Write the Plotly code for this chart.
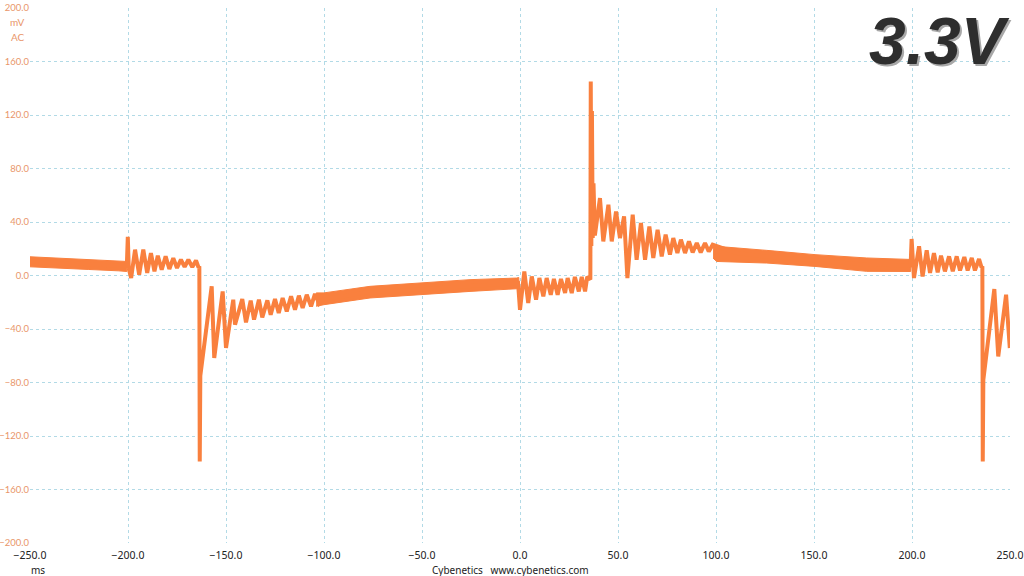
import plotly.graph_objects as go

# ---------------- data ----------------
trace_ms = [
    -250, -245, -240, -235, -230, -228, -225, -220, -215, -210, -205, -200.6,
    -200.1, -199.6, -198.4, -196.4, -194.3, -192.2, -190.2, -188.3, -186.5, -184.8,
    -182.8, -180.8, -178.9, -176.9, -175.0, -173.0, -171.1, -169.2, -167.2, -165.3,
    -164.0, -163.6,
    -163.4, -163.1,
    -157.3, -156.0, -151.7, -150.0, -146.3, -145.4, -141.7, -139.8, -137.4, -135.7,
    -133.2, -131.5, -128.9, -127.2, -125.0, -123.1, -121.1, -119.0, -116.8, -114.8,
    -112.8, -110.9, -108.8, -106.6, -104.6, -102.5,
    -100, -90, -80, -70, -60, -50, -40, -30, -20, -10, -1,
    0.0, 2.2, 4.2, 6.0, 8.2, 9.9, 11.9, 13.6, 15.7, 17.3, 19.2, 20.9, 23.0, 24.3,
    26.4, 28.0, 30.0, 31.5, 33.2, 34.3, 35.9,
    36.1, 36.4, 36.7, 37.1, 37.5, 38.2,
    40.8, 42.5, 45.1, 46.8, 49.0, 51.0, 53.1, 54.8, 57.5, 59.5, 61.7, 63.8, 66.0,
    68.0, 70.2, 72.3, 74.3, 76.5, 78.2, 80.3, 82.1, 84.2, 86.2, 88.1, 90.2, 92.2,
    94.4, 96.3, 98.3,
    110, 126, 140, 150, 165, 177, 190, 199.3,
    199.8, 201.0, 203.6, 205.4, 207.5, 209.2, 211.2, 213.1, 214.8, 216.8, 218.9,
    220.8, 222.8, 224.5, 226.7, 228.4, 230.5, 232.1, 234.2, 235.5, 235.9,
    236.1, 236.4, 242.0, 244.0, 248.0, 249.9,
]
trace_mv = [
    10.5, 10, 10, 9.5, 9, 8, 9, 8.5, 8, 8, 7.5, 7,
    29, 5, -1.9, 19.3, 0.6, 19.3, 1.9, 16.8, 3.1, 14.8,
    4.3, 14.3, 4.9, 13, 5.6, 11.8, 6.4, 11.8, 6.4, 11.3,
    6, 7,
    -139, -75,
    -8.1, -61.7, -11.9, -54.2, -18.1, -36.8, -17.6, -35.1, -18.8, -33,
    -18.1, -31.3, -18.6, -29.3, -17.6, -28, -16.8, -26.8, -15.6, -25.6,
    -15.1, -24.3, -14.4, -23.1, -13.8, -21,
    -17, -15.5, -13, -12, -11, -10, -9, -8, -7, -6.5, -5.5,
    -25.6, 3, -20.6, -0.7, -18.1, -1.9, -15.6, -1.9, -14.4, -2.6, -14.4, -2.6, -13.1, -1.9,
    -13.1, -1.1, -11.9, -1.1, -11.9, -1, -3,
    145, 22, 123, 28, 69, 30,
    57.9, 25.5, 52.9, 25.5, 47.9, 28, 44.2, -1.9, 45.5, 11.8, 39.2, 11.8, 36.7,
    13.1, 34.2, 14.3, 30.5, 15.6, 28, 16.8, 26.8, 16.8, 25.5, 17.3, 24.3, 17.3,
    24.3, 18, 23,
    17, 14, 12.5, 11, 9.5, 8, 7.8, 7.5,
    27.3, -1.9, 21.8, -0.7, 18.8, 1.9, 16.8, 2.3, 14.8, 3.1, 14.3,
    3.1, 14.3, 3.8, 13.8, 3.8, 13.1, 3.8, 12.3, 6, 7,
    -139, -78, -10.1, -60.5, -14.4, -54.2,
]

# noise band envelopes of the flat stretches
band_a_ms = [-250, -235, -220, -205, -200.6]
band_a_hi = [14, 13, 12, 11, 10.5]
band_a_lo = [6.5, 5.5, 4.5, 3.5, 3]

band_b_ms = [-104, -100, -76.5, -50.2, -25.5, -1.7, -0.6]
band_b_hi = [-13, -13, -8.1, -5.6, -3.1, -1.9, -1.5]
band_b_lo = [-23, -21.8, -16.8, -14.4, -11.9, -9.9, -9.5]

band_c_ms = [98.5, 100.3, 125.9, 150.5, 176.9, 193.9, 199.3]
band_c_hi = [23, 21.8, 18.8, 15.6, 13.1, 12.3, 12]
band_c_lo = [13, 10.5, 9.3, 6.8, 3.1, 3.1, 3]

x_ticks = [-250, -200, -150, -100, -50, 0, 50, 100, 150, 200, 250]
y_ticks = [-200, -160, -120, -80, -40, 0, 40, 80, 120, 160, 200]

# ---------------- figure ----------------
ORANGE = "#F9803E"
SALMON = "#E9966A"
GRID = "#B2DAE6"

fig = go.Figure()

for ms, hi, lo in [(band_a_ms, band_a_hi, band_a_lo),
                   (band_b_ms, band_b_hi, band_b_lo),
                   (band_c_ms, band_c_hi, band_c_lo)]:
    fig.add_trace(go.Scatter(
        x=ms + ms[::-1], y=hi + lo[::-1], mode="lines", fill="toself",
        fillcolor=ORANGE, line=dict(color=ORANGE, width=1),
        hoverinfo="skip", showlegend=False))

fig.add_trace(go.Scatter(x=trace_ms, y=trace_mv, mode="lines",
                         line=dict(color=ORANGE, width=4),
                         showlegend=False))

fig.update_layout(
    width=1024, height=576,
    margin=dict(l=30, r=14, t=8, b=33),
    paper_bgcolor="white", plot_bgcolor="white",
    font=dict(family="Noto Sans", size=10),
    xaxis=dict(range=[-250, 250], tickvals=x_ticks, tickformat=".1f",
               showgrid=True, gridcolor=GRID, griddash="dot", gridwidth=1,
               zeroline=False, showline=False, ticks="", automargin=False,
               ticklabelstandoff=4,
               tickfont=dict(color="#222222", size=10.5)),
    yaxis=dict(range=[-200, 200], tickvals=y_ticks, tickformat=".1f",
               showgrid=True, gridcolor=GRID, griddash="dot", gridwidth=1,
               zeroline=False, showline=False, ticks="", automargin=False,
               ticklabelstandoff=0,
               tickfont=dict(color=SALMON, size=9.5, family="Lato")),
)

annos = [
    dict(text="mV", x=-0.003, y=0.9738, xanchor="right", yanchor="middle",
         font=dict(color=SALMON, size=10, family="Lato")),
    dict(text="AC", x=-0.003, y=0.9458, xanchor="right", yanchor="middle",
         font=dict(color=SALMON, size=10, family="Lato")),
    dict(text="ms", x=0.008, y=-0.0505, xanchor="center", yanchor="middle",
         font=dict(color="#222222", size=10)),
    dict(text="Cybenetics   www.cybenetics.com", x=0.4898, y=-0.0505,
         xanchor="center", yanchor="middle", font=dict(color="#222222", size=10)),
    dict(text="<b><i>3.3V</i></b>", x=1.0042, y=0.934, xanchor="right",
         yanchor="middle", font=dict(color="#a8a8a8", size=66,
                                     family="Liberation Sans")),
    dict(text="<b><i>3.3V</i></b>", x=1.002, y=0.938, xanchor="right",
         yanchor="middle", font=dict(color="#2e2e2e", size=66,
                                     family="Liberation Sans")),
]
for a in annos:
    fig.add_annotation(xref="paper", yref="paper", showarrow=False, **a)

fig.write_html("out.html",
               config={"displayModeBar": False},
               post_script="document.body.style.margin='0px';"
                           "document.body.style.overflow='hidden';")
